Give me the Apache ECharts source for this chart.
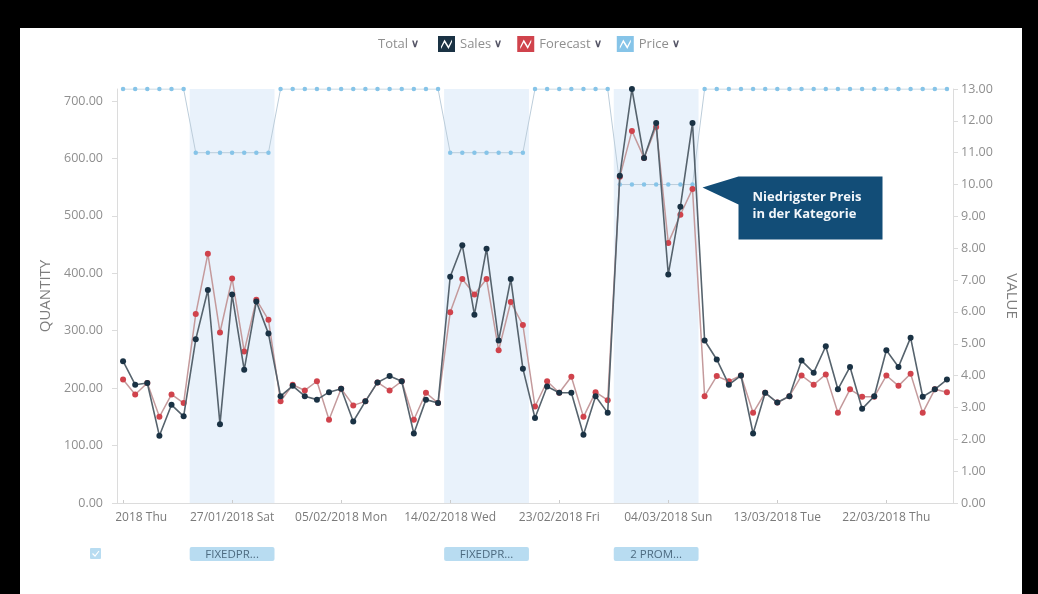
<!DOCTYPE html>
<html><head><meta charset="utf-8">
<script src="https://cdn.jsdelivr.net/npm/echarts@6/dist/echarts.min.js"></script>
<style>
html,body{margin:0;padding:0;background:#000;width:1038px;height:594px;overflow:hidden}
#paper{position:absolute;left:20px;top:28px;width:1002px;height:566px;background:#fff}
#chart{position:absolute;left:0;top:0;width:1038px;height:594px}
</style></head><body>
<div id="paper"></div><div id="chart"></div>
<script>
const dates = [
 '18/01/2018 Thu','19/01/2018 Fri','20/01/2018 Sat','21/01/2018 Sun','22/01/2018 Mon','23/01/2018 Tue','24/01/2018 Wed',
 '25/01/2018 Thu','26/01/2018 Fri','27/01/2018 Sat','28/01/2018 Sun','29/01/2018 Mon','30/01/2018 Tue','31/01/2018 Wed',
 '01/02/2018 Thu','02/02/2018 Fri','03/02/2018 Sat','04/02/2018 Sun','05/02/2018 Mon','06/02/2018 Tue','07/02/2018 Wed',
 '08/02/2018 Thu','09/02/2018 Fri','10/02/2018 Sat','11/02/2018 Sun','12/02/2018 Mon','13/02/2018 Tue','14/02/2018 Wed',
 '15/02/2018 Thu','16/02/2018 Fri','17/02/2018 Sat','18/02/2018 Sun','19/02/2018 Mon','20/02/2018 Tue','21/02/2018 Wed',
 '22/02/2018 Thu','23/02/2018 Fri','24/02/2018 Sat','25/02/2018 Sun','26/02/2018 Mon','27/02/2018 Tue','28/02/2018 Wed',
 '01/03/2018 Thu','02/03/2018 Fri','03/03/2018 Sat','04/03/2018 Sun','05/03/2018 Mon','06/03/2018 Tue','07/03/2018 Wed',
 '08/03/2018 Thu','09/03/2018 Fri','10/03/2018 Sat','11/03/2018 Sun','12/03/2018 Mon','13/03/2018 Tue','14/03/2018 Wed',
 '15/03/2018 Thu','16/03/2018 Fri','17/03/2018 Sat','18/03/2018 Sun','19/03/2018 Mon','20/03/2018 Tue','21/03/2018 Wed',
 '22/03/2018 Thu','23/03/2018 Fri','24/03/2018 Sat','25/03/2018 Sun','26/03/2018 Mon','27/03/2018 Tue'
];
const sales = [247,206,209,117,171,151,285,371,137,363,232,351,295,186,204,186,180,193,199,142,177,210,221,212,121,180,174,
 394,449,328,443,283,390,234,148,203,192,192,119,186,157,570,721,601,662,398,516,662,283,250,206,222,121,192,175,186,248,
 227,273,198,237,164,186,266,237,288,185,198,215];
const forecast = [215,189,209,150,189,174,329,434,297,391,264,354,319,177,206,196,212,145,199,170,177,210,196,212,145,192,174,
 332,390,363,390,266,350,310,168,212,192,220,150,193,179,568,648,601,655,453,502,547,186,221,212,222,157,192,175,186,222,
 206,224,157,198,185,185,222,204,225,157,198,193];
const price = [13,13,13,13,13,13,11,11,11,11,11,11,11,13,13,13,13,13,13,13,13,13,13,13,13,13,13,
 11,11,11,11,11,11,11,13,13,13,13,13,13,13,10,10,10,10,10,10,10,13,13,13,13,13,13,13,13,13,
 13,13,13,13,13,13,13,13,13,13,13,13];
// promotion periods: [first date index, last date index]
const promoPeriods = [[6,12],[27,33],[41,47]];
const promoLabels = ['FIXEDPR...','FIXEDPR...','2 PROM...'];
const yLeftTicks = 100, yRightMax = 13, yRightTicks = 1;
const legendNames = ['Sales','Forecast','Price'];
const noteText = 'Niedrigster Preis\nin der Kategorie';
const noteIndex = 47, noteValue = 10;

const FONT = '"Open Sans","Noto Sans",sans-serif';
const chart = echarts.init(document.getElementById('chart'));
const icon = 'path://M0,0H17V16H0Z M3,13L6.5,6.5L10.5,13L14,6L14,3.5L10.5,10L6.5,3.5L3,10.5Z';

const option = {
  animation:false,
  textStyle:{fontFamily:FONT},
  grid:{left:117,right:85,top:89,bottom:91},
  legend:{
    data:legendNames, left:438, top:36, padding:0, itemWidth:17, itemHeight:16, itemGap:15, icon:icon,
    selectedMode:false,
    formatter:n=>'{n|'+n+'} {v|∨}',
    textStyle:{fontFamily:FONT, rich:{n:{color:'#8f8f8f',fontSize:13,fontFamily:FONT},v:{color:'#556',fontSize:11,fontWeight:'bold'}}}
  },
  xAxis:{type:'category', data:dates, boundaryGap:true,
    axisLine:{lineStyle:{color:'#dcdcdc'}},
    axisTick:{show:true, interval:8, alignWithLabel:true, inside:true, length:3, lineStyle:{color:'#ccc'}},
    axisLabel:{interval:8, color:'#7a7a7a', fontSize:12, margin:9}},
  yAxis:[
    {type:'value', min:0, max:'dataMax', interval:yLeftTicks, name:'QUANTITY', nameLocation:'middle', nameGap:60, nameRotate:90,
     nameTextStyle:{color:'#7d7d7d',fontSize:15},
     axisLine:{show:true,lineStyle:{color:'#dcdcdc'}}, axisTick:{show:true,length:5,lineStyle:{color:'#dcdcdc'}},
     splitLine:{show:false},
     axisLabel:{formatter:v=>v.toFixed(2), color:'#8f8f8f', fontSize:12.5, margin:14, showMaxLabel:false}},
    {type:'value', min:0, max:yRightMax, interval:yRightTicks, position:'right', name:'VALUE', nameLocation:'middle', nameGap:51, nameRotate:-90,
     nameTextStyle:{color:'#7d7d7d',fontSize:15},
     axisLine:{show:true,lineStyle:{color:'#dcdcdc'}}, axisTick:{show:true,length:5,lineStyle:{color:'#dcdcdc'}},
     splitLine:{show:false},
     axisLabel:{formatter:v=>v.toFixed(2), color:'#8f8f8f', fontSize:12.5, margin:8}}
  ],
  series:[
    {type:'custom', yAxisIndex:1, z:0, silent:true,
     data:promoPeriods.map(p=>[p[0],p[1],0]), encode:{x:[0,1], y:2},
     renderItem:(params, api)=>{
       const s = api.value(0), e = api.value(1);
       const bw = api.size([1,0])[0];
       const x0 = api.coord([s,0])[0]-bw/2, x1 = api.coord([e,0])[0]+bw/2;
       const cs = params.coordSys;
       const by = cs.y+cs.height+44;
       return {type:'group', children:[
         {type:'rect', shape:{x:x0,y:cs.y,width:x1-x0,height:cs.height}, style:{fill:'#e9f2fb'}},
         {type:'rect', shape:{x:x0,y:by,width:x1-x0,height:14,r:2}, style:{fill:'#b8dcf1'}},
         {type:'text', style:{text:promoLabels[params.dataIndex], x:(x0+x1)/2, y:by+7.5, align:'center', verticalAlign:'middle', fill:'#4d6b80', font:'11.5px '+FONT}}
       ]};
     }},
    {name:'Forecast', type:'line', data:forecast, z:3, symbol:'circle', symbolSize:6, showAllSymbol:true,
     itemStyle:{color:'#d0434c'}, lineStyle:{color:'#c49a9c', width:1.5}},
    {name:'Sales', type:'line', data:sales, z:4, symbol:'circle', symbolSize:6, showAllSymbol:true,
     itemStyle:{color:'#1a3244'}, lineStyle:{color:'#56636d', width:1.6}},
    {name:'Price', type:'line', data:price, yAxisIndex:1, z:2, symbol:'circle', symbolSize:4.5, showAllSymbol:true,
     itemStyle:{color:'#86c4e8'}, lineStyle:{color:'#bccdda', width:1}}
  ]
};
chart.setOption(option);

const p = chart.convertToPixel({xAxisIndex:0, yAxisIndex:1}, [noteIndex, noteValue]);
const tx = p[0]+10, ty = p[1]+3;
chart.setOption({graphic:[
  {type:'rect', shape:{x:20,y:510,width:96,height:22}, style:{fill:'#fff'}, z:100},
  {type:'text', x:378, y:44, style:{text:'{n|Total} {v|∨}', verticalAlign:'middle',
    rich:{n:{fill:'#8f8f8f',fontSize:13,fontFamily:FONT},v:{fill:'#556',fontSize:11,fontWeight:'bold'}}}, z:100},
  {type:'rect', shape:{x:90,y:548,width:11,height:11,r:1}, style:{fill:'#b8dcf1'}, z:100},
  {type:'polyline', shape:{points:[[92.5,553.5],[95,556],[99,551]]}, style:{stroke:'#fff',lineWidth:1.2,fill:null}, z:101},
  {type:'polygon', shape:{points:[[tx,ty],[tx+36,ty-11],[tx+180,ty-11],[tx+180,ty+52],[tx+36,ty+52],[tx+36,ty+17]]},
    style:{fill:'#124d77'}, z:100},
  {type:'text', x:tx+50, y:ty+1, style:{text:noteText, fill:'#f2f6fa', font:'bold 13px '+FONT, lineHeight:17}, z:101}
]});
</script></body></html>
